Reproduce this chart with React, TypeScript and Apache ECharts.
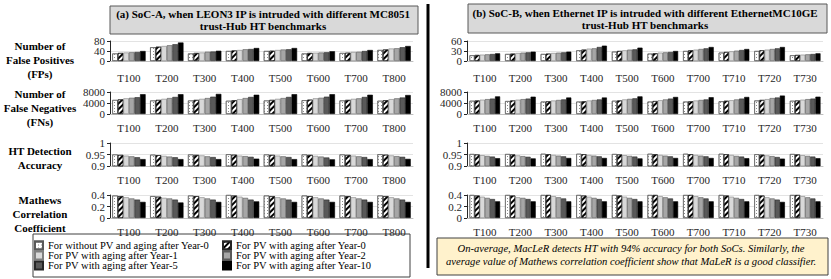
import React, { useEffect, useRef } from "react";
import * as echarts from "echarts";

const FONT = "Liberation Serif";

const seriesNames = [
  "For without PV and aging after Year-0",
  "For PV with aging after Year-0",
  "For PV with aging after Year-1",
  "For PV with aging after Year-2",
  "For PV with aging after Year-5",
  "For PV with aging after Year-10",
];

const categoriesA = ["T100", "T200", "T300", "T400", "T500", "T600", "T700", "T800"];
const categoriesB = ["T100", "T200", "T300", "T400", "T500", "T600", "T700", "T710", "T720", "T730"];

// rows = categories, columns = the six series
const fpA = [
  [30, 32, 34, 35, 36, 40],
  [55, 57, 60, 63, 67, 74],
  [30, 32, 34, 37, 38, 41],
  [40, 42, 44, 47, 48, 52],
  [40, 41, 44, 46, 47, 52],
  [30, 32, 33, 34, 35, 39],
  [32, 33, 36, 37, 40, 44],
  [44, 46, 50, 51, 55, 60],
];
const fnA = [
  [5100, 5300, 5700, 5900, 6100, 7200],
  [4900, 5100, 5500, 5800, 6200, 7200],
  [4900, 5100, 5500, 5800, 6300, 7300],
  [4800, 5000, 5400, 5800, 6200, 7000],
  [4900, 5100, 5500, 5800, 6200, 7200],
  [5000, 5200, 5700, 5900, 6300, 7200],
  [4900, 5100, 5500, 5700, 6200, 7000],
  [4800, 5000, 5400, 5700, 6000, 6900],
];
const accA = [
  [0.95, 0.948, 0.945, 0.942, 0.938, 0.93],
  [0.949, 0.947, 0.944, 0.941, 0.938, 0.93],
  [0.95, 0.948, 0.946, 0.942, 0.939, 0.93],
  [0.951, 0.949, 0.945, 0.943, 0.94, 0.932],
  [0.95, 0.948, 0.945, 0.942, 0.939, 0.93],
  [0.95, 0.948, 0.944, 0.941, 0.937, 0.929],
  [0.95, 0.948, 0.945, 0.942, 0.939, 0.93],
  [0.951, 0.949, 0.946, 0.943, 0.94, 0.931],
];
const mccA = [
  [0.39, 0.38, 0.36, 0.34, 0.32, 0.28],
  [0.38, 0.37, 0.35, 0.34, 0.32, 0.27],
  [0.39, 0.38, 0.36, 0.34, 0.32, 0.28],
  [0.4, 0.39, 0.37, 0.35, 0.32, 0.29],
  [0.39, 0.38, 0.36, 0.34, 0.32, 0.28],
  [0.39, 0.38, 0.36, 0.34, 0.32, 0.28],
  [0.39, 0.38, 0.36, 0.34, 0.32, 0.28],
  [0.39, 0.38, 0.36, 0.34, 0.32, 0.28],
];

const fpB = [
  [17, 18, 19, 20, 21, 23],
  [21, 22, 24, 25, 26, 28],
  [21, 22, 24, 25, 26, 28],
  [32, 34, 37, 38, 42, 46],
  [28, 30, 32, 34, 35, 40],
  [22, 23, 25, 26, 27, 30],
  [30, 32, 34, 36, 38, 42],
  [25, 27, 29, 31, 33, 36],
  [30, 32, 34, 36, 38, 42],
  [17, 18, 19, 20, 21, 23],
];
const fnB = [
  [4800, 4900, 5200, 5400, 5600, 6400],
  [4700, 4900, 5200, 5400, 5600, 6300],
  [4500, 4600, 4900, 5100, 5300, 6000],
  [4500, 4600, 4900, 5100, 5300, 6000],
  [4800, 4900, 5300, 5500, 5700, 6400],
  [4500, 4700, 5000, 5300, 5600, 6200],
  [4500, 4600, 4900, 5100, 5300, 6100],
  [4600, 4800, 5000, 5300, 5600, 6200],
  [4900, 5100, 5400, 5800, 6000, 6700],
  [4800, 4900, 5200, 5400, 5600, 6300],
];
const accB = [
  [0.952, 0.95, 0.947, 0.944, 0.941, 0.934],
  [0.952, 0.95, 0.946, 0.943, 0.94, 0.933],
  [0.953, 0.951, 0.948, 0.945, 0.942, 0.935],
  [0.953, 0.951, 0.948, 0.945, 0.942, 0.935],
  [0.952, 0.95, 0.947, 0.944, 0.941, 0.933],
  [0.953, 0.951, 0.948, 0.945, 0.942, 0.935],
  [0.953, 0.951, 0.948, 0.945, 0.942, 0.935],
  [0.953, 0.951, 0.948, 0.944, 0.941, 0.934],
  [0.951, 0.949, 0.946, 0.943, 0.939, 0.932],
  [0.952, 0.95, 0.947, 0.944, 0.941, 0.934],
];
const mccB = [
  [0.4, 0.39, 0.37, 0.35, 0.33, 0.29],
  [0.4, 0.39, 0.36, 0.35, 0.33, 0.29],
  [0.4, 0.4, 0.38, 0.36, 0.34, 0.29],
  [0.4, 0.39, 0.37, 0.35, 0.33, 0.29],
  [0.4, 0.39, 0.37, 0.35, 0.33, 0.29],
  [0.4, 0.4, 0.38, 0.36, 0.34, 0.29],
  [0.4, 0.4, 0.38, 0.36, 0.34, 0.29],
  [0.4, 0.39, 0.37, 0.35, 0.33, 0.29],
  [0.4, 0.39, 0.36, 0.34, 0.32, 0.28],
  [0.4, 0.4, 0.38, 0.36, 0.34, 0.29],
];

const titleA = "(a) SoC-A, when LEON3 IP is intruded with different MC8051\ntrust-Hub HT benchmarks";
const titleB = "(b) SoC-B, when Ethernet IP is intruded with different EthernetMC10GE\ntrust-Hub HT benchmarks";
const rowLabels = [
  ["Number of", "False Positives", "(FPs)"],
  ["Number of", "False Negatives", "(FNs)"],
  ["HT Detection", "Accuracy"],
  ["Mathews", "Correlation", "Coefficient"],
];
const noteText =
  "On-average, MacLeR detects HT with 94% accuracy for both SoCs. Similarly, the\naverage value of Mathews correlation coefficient show that MaLeR is a good classifier.";

const seriesStyles: any[] = [
  {
    color: "#ffffff",
    borderColor: "#595959",
    decal: { symbol: "rect", symbolSize: 1, dashArrayX: [1, 2], dashArrayY: [1, 2], color: "#8c8c8c" },
  },
  {
    color: "#ffffff",
    borderColor: "#262626",
    decal: { symbol: "rect", symbolSize: 1, dashArrayX: [1, 0], dashArrayY: [1.6, 1.8], rotation: -Math.PI / 4, color: "#000000" },
  },
  { color: "#d9d9d9", borderColor: "#7f7f7f" },
  { color: "#a6a6a6", borderColor: "#595959" },
  { color: "#595959", borderColor: "#262626" },
  { color: "#000000", borderColor: "#000000" },
];

const rowsY = [
  { top: 41, bottom: 61, labelMargin: 11 },
  { top: 92, bottom: 114, labelMargin: 8 },
  { top: 143, bottom: 166, labelMargin: 8 },
  { top: 195, bottom: 218, labelMargin: 8 },
];
const yAxesA = [
  { min: 0, max: 80, interval: 40 },
  { min: 0, max: 8000, interval: 4000 },
  { min: 0.9, max: 1, interval: 0.05 },
  { min: 0, max: 0.4, interval: 0.2 },
];
const yAxesB = [
  { min: 0, max: 60, interval: 30 },
  { min: 0, max: 8000, interval: 4000 },
  { min: 0.9, max: 1, interval: 0.05 },
  { min: 0, max: 0.4, interval: 0.2 },
];

function fmt(v: number) {
  return String(Math.round(v * 1000) / 1000);
}

const yLabelBase = { fontFamily: FONT, fontSize: 11, color: "#262626", margin: 5, formatter: fmt };

function buildOption() {
  const grids: any[] = [];
  const xAxes: any[] = [];
  const yAxes: any[] = [];
  const series: any[] = [];
  const panels = [
    { left: 110, right: 413, cats: categoriesA, data: [fpA, fnA, accA, mccA], ys: yAxesA, gap: "12%" },
    { left: 467, right: 823, cats: categoriesB, data: [fpB, fnB, accB, mccB], ys: yAxesB, gap: "14%" },
  ];
  panels.forEach((p) => {
    rowsY.forEach((r, ri) => {
      const gi = grids.length;
      const ys = p.ys[ri];
      grids.push({ left: p.left, top: r.top, width: p.right - p.left, height: r.bottom - r.top, containLabel: false });
      xAxes.push({
        type: "category",
        gridIndex: gi,
        data: p.cats,
        axisLine: { show: true, lineStyle: { color: "#bfbfbf", width: 1 } },
        axisTick: { show: false },
        axisLabel: { fontFamily: FONT, fontSize: 11, color: "#262626", margin: r.labelMargin, interval: 0 },
      });
      const tight = (r.bottom - r.top) / ((ys.max - ys.min) / ys.interval) < 11;
      const yi = yAxes.length;
      if (tight) {
        yAxes.push({
          type: "value",
          gridIndex: gi,
          min: ys.min,
          max: ys.max,
          interval: ys.max - ys.min,
          axisLine: { show: true, lineStyle: { color: "#262626", width: 1 } },
          axisTick: { show: true, length: 3, lineStyle: { color: "#262626" } },
          splitLine: { show: true, lineStyle: { color: "#e3e3e3", width: 1 } },
          axisLabel: { ...yLabelBase, showMinLabel: true, showMaxLabel: true },
        });
        yAxes.push({
          type: "value",
          gridIndex: gi,
          position: "left",
          min: ys.min,
          max: ys.max,
          interval: ys.interval,
          axisLine: { show: false },
          axisTick: { show: true, length: 3, lineStyle: { color: "#262626" } },
          splitLine: { show: true, lineStyle: { color: "#e3e3e3", width: 1 } },
          axisLabel: { ...yLabelBase, showMinLabel: false, showMaxLabel: false },
        });
      } else {
        yAxes.push({
          type: "value",
          gridIndex: gi,
          min: ys.min,
          max: ys.max,
          interval: ys.interval,
          axisLine: { show: true, lineStyle: { color: "#262626", width: 1 } },
          axisTick: { show: true, length: 3, lineStyle: { color: "#262626" } },
          splitLine: { show: true, lineStyle: { color: "#e3e3e3", width: 1 } },
          axisLabel: { ...yLabelBase, showMinLabel: true, showMaxLabel: true, hideOverlap: false },
        });
      }
      const rows = p.data[ri];
      seriesNames.forEach((name, si) => {
        series.push({
          type: "bar",
          name,
          xAxisIndex: gi,
          yAxisIndex: yi,
          data: rows.map((row) => row[si]),
          barGap: "0%",
          barCategoryGap: p.gap,
          clip: true,
          itemStyle: { ...seriesStyles[si], borderWidth: 0.6 },
          emphasis: { disabled: true },
        });
      });
    });
  });

  const legendPos = [
    { left: 34, top: 240 },
    { left: 222, top: 240 },
    { left: 34, top: 250 },
    { left: 222, top: 250 },
    { left: 34, top: 260 },
    { left: 222, top: 260 },
  ];
  const legends = seriesNames.map((name, i) => ({
    show: true,
    data: [name],
    left: legendPos[i].left,
    top: legendPos[i].top,
    orient: "horizontal",
    padding: 0,
    itemGap: 0,
    itemWidth: 8,
    itemHeight: 8,
    icon: "rect",
    selectedMode: false,
    textStyle: { fontFamily: FONT, fontSize: 10.5, color: "#000", lineHeight: 10 },
  }));

  const graphics: any[] = [];
  graphics.push({ type: "rect", shape: { x: 110, y: 6, width: 308, height: 28 }, style: { fill: "#d9d9d9", stroke: "#595959", lineWidth: 1 } });
  graphics.push({
    type: "text", x: 263, y: 20,
    style: { text: titleA, fontFamily: FONT, fontWeight: "bold", fontSize: 11, lineHeight: 12, fill: "#000", align: "center", verticalAlign: "middle" },
  });
  graphics.push({ type: "rect", shape: { x: 468, y: 4, width: 359, height: 29 }, style: { fill: "#d9d9d9", stroke: "#595959", lineWidth: 1 } });
  graphics.push({
    type: "text", x: 645, y: 18.5,
    style: { text: titleB, fontFamily: FONT, fontWeight: "bold", fontSize: 11, lineHeight: 12, fill: "#000", align: "center", verticalAlign: "middle" },
  });
  graphics.push({ type: "line", shape: { x1: 428, y1: 4, x2: 428, y2: 268 }, style: { stroke: "#000", lineWidth: 3 } });
  const labelCenters = [60, 108, 158, 214];
  rowLabels.forEach((lines, i) => {
    graphics.push({
      type: "text", x: 40, y: labelCenters[i],
      style: { text: lines.join("\n"), fontFamily: FONT, fontWeight: "bold", fontSize: 11, lineHeight: 14, fill: "#000", align: "center", verticalAlign: "middle" },
    });
  });
  graphics.push({ type: "rect", shape: { x: 33, y: 234, width: 377, height: 43 }, style: { fill: "none", stroke: "#404040", lineWidth: 1 } });
  graphics.push({ type: "rect", shape: { x: 437, y: 238, width: 391, height: 37 }, style: { fill: "#fff2cc", stroke: "#404040", lineWidth: 1 } });
  graphics.push({
    type: "text", x: 631, y: 255,
    style: { text: noteText, fontFamily: FONT, fontStyle: "italic", fontSize: 10.6, lineHeight: 13.5, fill: "#000", align: "center", verticalAlign: "middle" },
  });

  return {
    animation: false,
    backgroundColor: "#ffffff",
    textStyle: { fontFamily: FONT },
    grid: grids,
    xAxis: xAxes,
    yAxis: yAxes,
    series,
    legend: legends,
    graphic: graphics,
  };
}

export default function App() {
  const ref = useRef<HTMLDivElement>(null);
  useEffect(() => {
    if (!ref.current) return;
    const chart = echarts.init(ref.current, undefined, { renderer: "svg" });
    chart.setOption(buildOption() as any);
    return () => chart.dispose();
  }, []);
  return <div ref={ref} style={{ position: "absolute", left: 0, top: 0, width: 831, height: 279 }} />;
}
